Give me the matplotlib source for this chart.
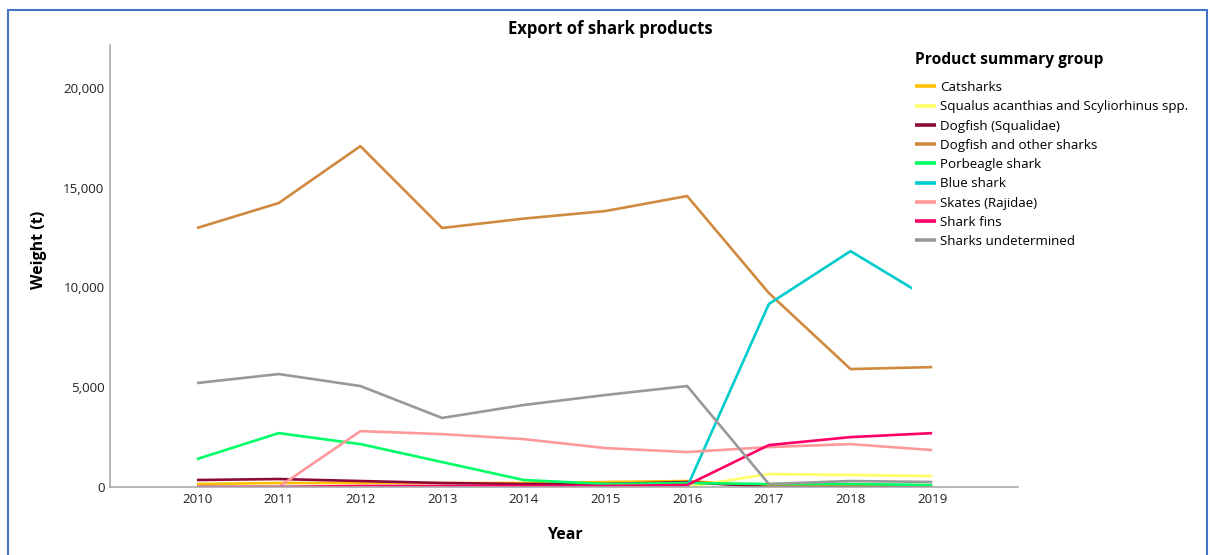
import matplotlib
matplotlib.use("Agg")
import matplotlib.pyplot as plt
from matplotlib.patches import Rectangle
import numpy as np

plt.rcParams['font.family'] = ['Open Sans', 'DejaVu Sans']

years = [2010, 2011, 2012, 2013, 2014, 2015, 2016, 2017, 2018, 2019]

series_names = [
    "Catsharks",
    "Squalus acanthias and Scyliorhinus spp.",
    "Dogfish (Squalidae)",
    "Dogfish and other sharks",
    "Porbeagle shark",
    "Blue shark",
    "Skates (Rajidae)",
    "Shark fins",
    "Sharks undetermined",
]
catsharks = [150, 200, 200, 200, 200, 250, 300, 50, 50, 50]
squalus = [0, 0, 0, 0, 0, 0, 0, 650, 600, 550]
dogfish_squalidae = [350, 400, 300, 200, 150, 150, 250, 0, 0, 0]
dogfish_other = [12980, 14230, 17080, 12980, 13450, 13830, 14580, 9720, 5910, 6010]
porbeagle = [1400, 2700, 2150, 1250, 350, 150, 200, 150, 150, 100]
blue_shark = [0, 0, 0, 0, 0, 0, 0, 9170, 11820, 9350]
skates = [0, 0, 2800, 2650, 2400, 1950, 1750, 2000, 2150, 1850]
shark_fins = [0, 0, 50, 50, 50, 50, 100, 2100, 2500, 2700]
sharks_undetermined = [5210, 5660, 5060, 3460, 4110, 4610, 5060, 150, 300, 250]

series_values = [catsharks, squalus, dogfish_squalidae, dogfish_other, porbeagle,
                 blue_shark, skates, shark_fins, sharks_undetermined]
colors = ["#FFC000", "#FFFF66", "#8B0A3A", "#D08A3F", "#00FF66",
          "#00CCCC", "#FF9999", "#FF0066", "#999999"]

fig = plt.figure(figsize=(12.1, 5.55), dpi=100)
ax = fig.add_axes([110/1210, 1-487/555, (1018-110)/1210, (487-45)/555])

for name, vals, c in zip(series_names, series_values, colors):
    ax.plot(years, vals, color=c, lw=1.9, label=name, solid_capstyle='butt')

ax.set_xlim(2008.935, 2020.05)
ax.set_ylim(0, 22150)
ax.set_xticks(years)
ax.set_yticks([0, 5000, 10000, 15000, 20000])
ax.set_yticklabels(["0", "5,000", "10,000", "15,000", "20,000"])
ax.tick_params(length=0, labelsize=9.6, colors="#222222")
ax.tick_params(axis="y", pad=4)
ax.tick_params(axis="x", pad=4)
for s in ["top", "right"]:
    ax.spines[s].set_visible(False)
for s in ["left", "bottom"]:
    ax.spines[s].set_color("#AAAAAA")
    ax.spines[s].set_linewidth(1.2)

ax.set_xlabel("Year", fontsize=11.5, fontweight="bold")
ax.xaxis.set_label_coords((565-110)/908, -(527-487)/442)
ax.set_ylabel("Weight (t)", fontsize=11.5, fontweight="bold")
ax.yaxis.set_label_coords((47-110)/908, (487-250)/442)
fig.text(610/1210, 1-29/555, "Export of shark products", ha="center", va="center",
         fontsize=12, fontweight="bold")

# white area behind legend (legend covers part of the plot)
fig.patches.append(Rectangle((912/1210, 1-310/555), (1205-912)/1210, (310-45)/555,
                             transform=fig.transFigure, facecolor="white",
                             edgecolor="none", zorder=5))

fig.text(915/1210, 1-60/555, "Product summary group", ha="left", va="center",
         fontsize=11.2, fontweight="bold", zorder=7)

handles, labels = ax.get_legend_handles_labels()
leg = fig.legend(handles, labels, loc="upper left",
                 bbox_to_anchor=(915/1210, 1-81/555),
                 frameon=False, fontsize=9.6,
                 handlelength=1.55, handletextpad=0.35, labelspacing=0.47,
                 borderaxespad=0, borderpad=0)
for h in leg.get_lines():
    h.set_linewidth(2.6)
leg.set_zorder(6)

# figure border
fig.patches.append(Rectangle((8/1210, -0.05), (1207-8)/1210, 1.05-10/555,
                             transform=fig.transFigure, facecolor="none",
                             edgecolor="#4472C4", lw=1.5, zorder=0))

fig.savefig("out.png", dpi=100)
